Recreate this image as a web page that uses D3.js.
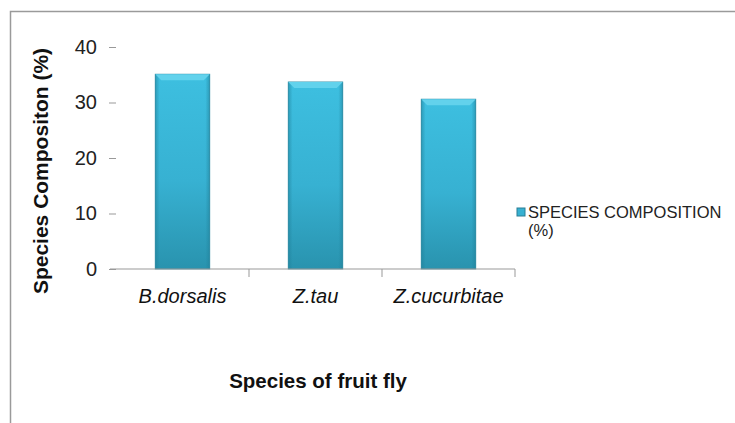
<!DOCTYPE html>
<html>
<head>
<meta charset="utf-8">
<script src="https://cdn.jsdelivr.net/npm/d3@7"></script>
<style>
  body { margin: 0; background: #fff; }
  text { font-family: "Liberation Sans", Arial, sans-serif; }
</style>
</head>
<body>
<svg id="chart" width="735" height="423"></svg>
<script>
var species = ["B.dorsalis", "Z.tau", "Z.cucurbitae"];
var composition = [35.1, 33.7, 30.6];
var yTicks = [0, 10, 20, 30, 40];

var svg = d3.select("#chart"),
    plotLeft = 116, plotRight = 515,
    plotTop = 47, plotBottom = 269;

// outer frame (top and left edge only visible)
svg.append("path")
    .attr("d", "M10.5,423 V11.5 H735")
    .attr("fill", "none")
    .attr("stroke", "#9a9a9a")
    .attr("stroke-width", 1.5);

var x = d3.scaleBand()
    .domain(species)
    .range([plotLeft, plotRight])
    .paddingInner(0.59)
    .paddingOuter(0.295);

var y = d3.scaleLinear()
    .domain([0, 40])
    .range([plotBottom, plotTop]);

var defs = svg.append("defs");
var grad = defs.append("linearGradient")
    .attr("id", "barGrad")
    .attr("x1", 0).attr("y1", 0).attr("x2", 0).attr("y2", 1);
grad.append("stop").attr("offset", "0%").attr("stop-color", "#3dbfe0");
grad.append("stop").attr("offset", "55%").attr("stop-color", "#37b1d2");
grad.append("stop").attr("offset", "100%").attr("stop-color", "#2993ae");

var side = defs.append("linearGradient")
    .attr("id", "sideGrad")
    .attr("x1", 0).attr("y1", 0).attr("x2", 1).attr("y2", 0);
side.append("stop").attr("offset", "0%").attr("stop-color", "#1f7f98").attr("stop-opacity", 0.55);
side.append("stop").attr("offset", "8%").attr("stop-color", "#1f7f98").attr("stop-opacity", 0);
side.append("stop").attr("offset", "92%").attr("stop-color", "#1f7f98").attr("stop-opacity", 0);
side.append("stop").attr("offset", "100%").attr("stop-color", "#1f7f98").attr("stop-opacity", 0.55);

// y axis ticks (no axis line)
var yAxis = svg.append("g")
    .attr("transform", "translate(" + plotLeft + ",0)")
    .call(d3.axisLeft(y).tickValues(yTicks).tickSize(7).tickPadding(12));
yAxis.select(".domain").remove();
yAxis.selectAll(".tick line").attr("stroke", "#999");
yAxis.selectAll(".tick text")
    .attr("font-size", 20)
    .attr("fill", "#222")
    .attr("font-family", "Liberation Sans, Arial, sans-serif");

// bars
var bars = svg.append("g").selectAll("g")
  .data(species)
  .enter().append("g");

bars.append("rect")
    .attr("x", function(d) { return x(d); })
    .attr("y", function(d, i) { return y(composition[i]); })
    .attr("width", x.bandwidth())
    .attr("height", function(d, i) { return y(0) - y(composition[i]); })
    .attr("fill", "url(#barGrad)")
    .attr("stroke", "#2a8aa3")
    .attr("stroke-width", 0.8);

bars.append("rect")
    .attr("x", function(d) { return x(d); })
    .attr("y", function(d, i) { return y(composition[i]); })
    .attr("width", x.bandwidth())
    .attr("height", function(d, i) { return y(0) - y(composition[i]); })
    .attr("fill", "url(#sideGrad)");

// top bevel
bars.append("path")
    .attr("d", function(d, i) {
      var x0 = x(d), x1 = x(d) + x.bandwidth(), t = y(composition[i]);
      return "M" + x0 + "," + t + " H" + x1 + " L" + (x1 - 6) + "," + (t + 6) +
             " H" + (x0 + 6) + " Z";
    })
    .attr("fill", "#62d2ec");

// x axis
var xAxis = svg.append("g")
    .attr("transform", "translate(0," + plotBottom + ")");
xAxis.append("line")
    .attr("x1", 110).attr("x2", plotRight)
    .attr("stroke", "#999");
var step = x.step();
xAxis.selectAll(".xt")
  .data(species)
  .enter().append("line")
    .attr("x1", function(d) { return x(d) + x.bandwidth() / 2 + step / 2; })
    .attr("x2", function(d) { return x(d) + x.bandwidth() / 2 + step / 2; })
    .attr("y1", 0).attr("y2", 8)
    .attr("stroke", "#999");
xAxis.selectAll(".xl")
  .data(species)
  .enter().append("text")
    .attr("x", function(d) { return x(d) + x.bandwidth() / 2; })
    .attr("y", 34)
    .attr("text-anchor", "middle")
    .attr("font-size", 20)
    .attr("font-style", "italic")
    .attr("fill", "#111")
    .text(function(d) { return d; });

// axis titles
svg.append("text")
    .attr("transform", "translate(48,171) rotate(-90)")
    .attr("text-anchor", "middle")
    .attr("font-size", 21)
    .attr("font-weight", "bold")
    .attr("fill", "#111")
    .text("Species Compositon (%)");

svg.append("text")
    .attr("x", 318)
    .attr("y", 388)
    .attr("text-anchor", "middle")
    .attr("font-size", 20.5)
    .attr("font-weight", "bold")
    .attr("fill", "#111")
    .text("Species of fruit fly");

// legend
var legend = svg.append("g").attr("transform", "translate(517,208)");
legend.append("rect")
    .attr("width", 8).attr("height", 8)
    .attr("fill", "#37b1d2")
    .attr("stroke", "#2a7f96");
legend.append("text")
    .attr("x", 11).attr("y", 10)
    .attr("font-size", 16.5)
    .attr("fill", "#222")
    .text("SPECIES COMPOSITION");
legend.append("text")
    .attr("x", 11).attr("y", 28)
    .attr("font-size", 16.5)
    .attr("fill", "#222")
    .text("(%)");
</script>
</body>
</html>
